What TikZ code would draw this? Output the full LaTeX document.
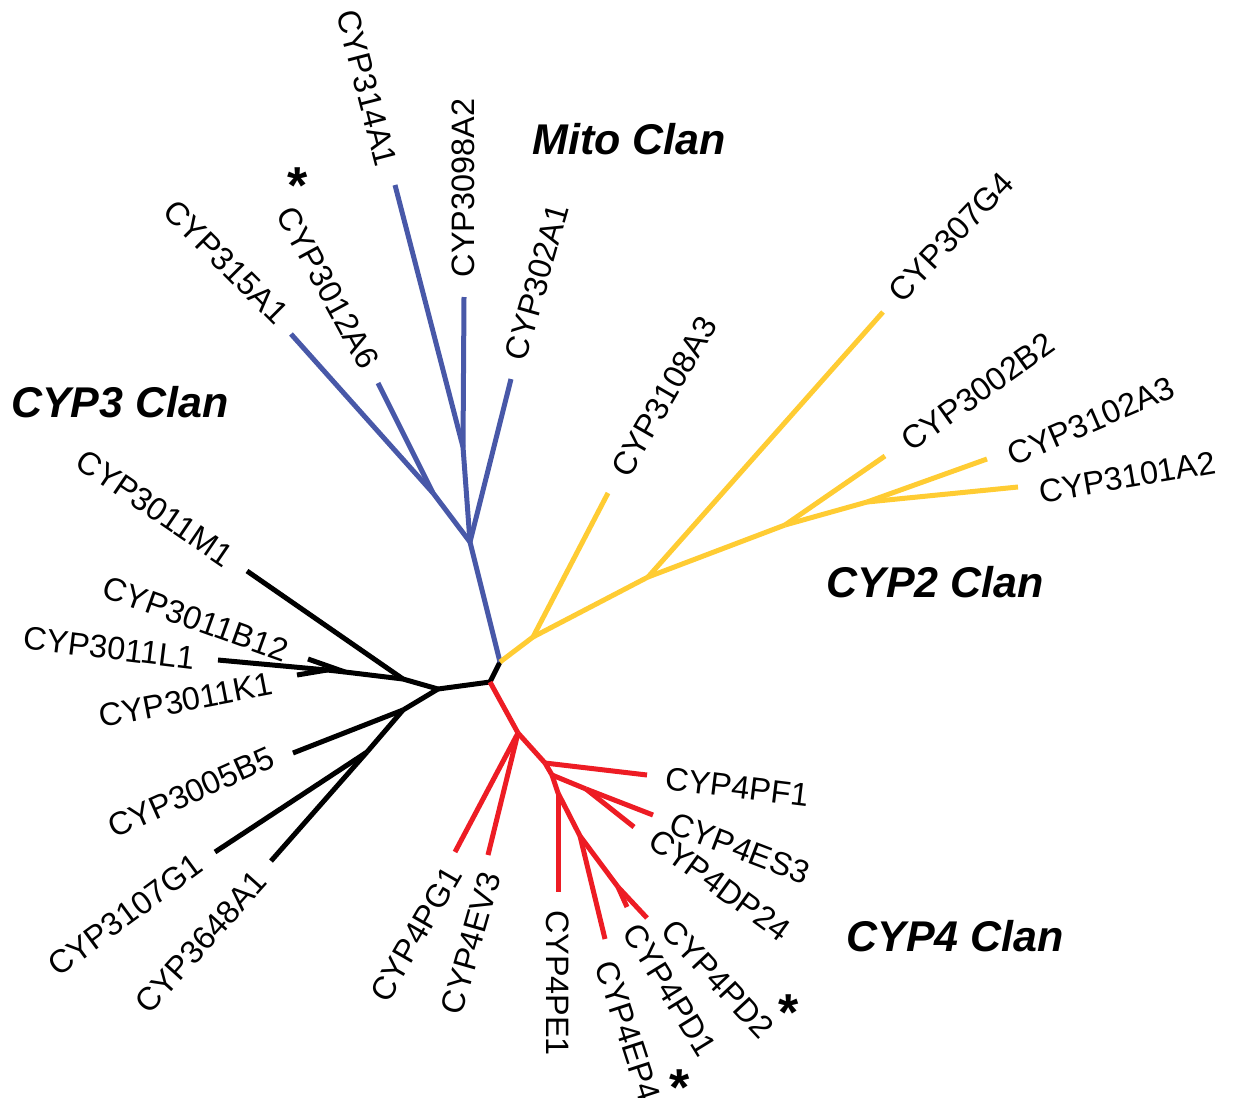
\documentclass[tikz,border=0pt]{standalone}
\usepackage{fontspec}
\setmainfont{Liberation Sans}
\definecolor{mblue}{RGB}{72,88,168}
\definecolor{myellow}{RGB}{255,204,51}
\definecolor{mred}{RGB}{237,28,36}
\tikzset{
  br/.style={line width=2.5pt, line join=round},
  lab/.style={inner sep=0pt, font=\fontsize{16.2}{18}\selectfont},
  clan/.style={inner sep=0pt, font=\fontsize{21.5}{24}\selectfont\bfseries\itshape},
  star/.style={inner sep=0pt, font=\fontsize{26}{26}\selectfont\bfseries}
}
\begin{document}
\begin{tikzpicture}[x=0.5pt,y=-0.5pt]
\useasboundingbox (0,0) rectangle (1234,1097);
\clip (0,0) rectangle (1234,1097);
% internal nodes
\coordinate (R0) at (500,662);
\coordinate (Rb) at (490,682);
% black
\coordinate (B1) at (438,689);
\coordinate (B2) at (403,679);
\coordinate (B3) at (345,672);
\coordinate (B4) at (327,670);
\coordinate (B5) at (403,710);
\coordinate (B6) at (367,752);
\coordinate (tM1) at (247,571);
\coordinate (tB12) at (308,659);
\coordinate (tL1) at (218,660);
\coordinate (tK1) at (297,675);
\coordinate (tB5) at (293,753);
\coordinate (tG1) at (215,852);
\coordinate (t3648) at (271,861);
% blue
\coordinate (U1) at (470,542);
\coordinate (U3) at (463,447);
\coordinate (U4) at (433,493);
\coordinate (t302) at (511,379);
\coordinate (t3098) at (464,297);
\coordinate (t314) at (395,185);
\coordinate (t3012) at (378,383);
\coordinate (t315) at (291,334);
% yellow
\coordinate (Y1) at (533,637);
\coordinate (Y2) at (648,577);
\coordinate (Y3) at (785,525);
\coordinate (Y4) at (867,502);
\coordinate (t3108) at (608,493);
\coordinate (t307) at (883,312);
\coordinate (t3002) at (885,456);
\coordinate (t3102) at (987,459);
\coordinate (t3101) at (1018,487);
% red
\coordinate (Q1) at (518,733);
\coordinate (Q2) at (545,763);
\coordinate (Q3) at (552,775);
\coordinate (Q4) at (586,789);
\coordinate (Q5) at (558,793);
\coordinate (Q6) at (580,836);
\coordinate (Q7) at (618,887);
\coordinate (tPG1) at (455,852);
\coordinate (tEV3) at (488,855);
\coordinate (tPF1) at (647,775);
\coordinate (tES3) at (653,815);
\coordinate (tDP24) at (634,827);
\coordinate (tPE1) at (558,892);
\coordinate (tEP4) at (605,939);
\coordinate (tPD1) at (627,907);
\coordinate (tPD2) at (647,918);

% branches
\draw[br,black] (Rb)--(R0);
\draw[br,black] (Rb)--(B1);
\draw[br,black] (B1)--(B2);
\draw[br,black] (B2)--(tM1);
\draw[br,black] (B2)--(B3);
\draw[br,black] (B3)--(tB12);
\draw[br,black] (B3)--(B4);
\draw[br,black] (B4)--(tL1);
\draw[br,black] (B4)--(tK1);
\draw[br,black] (B1)--(B5);
\draw[br,black] (B5)--(tB5);
\draw[br,black] (B5)--(B6);
\draw[br,black] (B6)--(tG1);
\draw[br,black] (B6)--(t3648);

\draw[br,mblue] (R0)--(U1);
\draw[br,mblue] (U1)--(t302);
\draw[br,mblue] (U1)--(U3);
\draw[br,mblue] (U3)--(t3098);
\draw[br,mblue] (U3)--(t314);
\draw[br,mblue] (U1)--(U4);
\draw[br,mblue] (U4)--(t3012);
\draw[br,mblue] (U4)--(t315);

\draw[br,myellow] (R0)--(Y1);
\draw[br,myellow] (Y1)--(t3108);
\draw[br,myellow] (Y1)--(Y2);
\draw[br,myellow] (Y2)--(t307);
\draw[br,myellow] (Y2)--(Y3);
\draw[br,myellow] (Y3)--(t3002);
\draw[br,myellow] (Y3)--(Y4);
\draw[br,myellow] (Y4)--(t3102);
\draw[br,myellow] (Y4)--(t3101);

\draw[br,mred] (Rb)--(Q1);
\draw[br,mred] (Q1)--(tPG1);
\draw[br,mred] (Q1)--(tEV3);
\draw[br,mred] (Q1)--(Q2);
\draw[br,mred] (Q2)--(tPF1);
\draw[br,mred] (Q2)--(Q3);
\draw[br,mred] (Q3)--(Q4);
\draw[br,mred] (Q4)--(tES3);
\draw[br,mred] (Q4)--(tDP24);
\draw[br,mred] (Q3)--(Q5);
\draw[br,mred] (Q5)--(tPE1);
\draw[br,mred] (Q5)--(Q6);
\draw[br,mred] (Q6)--(tEP4);
\draw[br,mred] (Q6)--(Q7);
\draw[br,mred] (Q7)--(tPD1);
\draw[br,mred] (Q7)--(tPD2);

% labels
\node[lab,rotate=-75.5] (l314) at (367,88) {CYP314A1};
\node[lab,rotate=90] (l3098) at (463,188) {CYP3098A2};
\node[lab,rotate=74] (l302) at (537,282) {CYP302A1};
\node[lab,rotate=-61.5] (l3012) at (328,288) {CYP3012A6};
\node[lab,rotate=-45] (l315) at (226,262) {CYP315A1};
\node[lab,rotate=60] (l3108) at (664,397) {CYP3108A3};
\node[lab,rotate=46.5] (l307) at (951,237) {CYP307G4};
\node[lab,rotate=35.5] (l3002) at (978,392) {CYP3002B2};
\node[lab,rotate=23.3] (l3102) at (1091,421) {CYP3102A3};
\node[lab,rotate=9.7] (l3101) at (1127,477) {CYP3101A2};
\node[lab,rotate=-7] (lPF1) at (737,787) {CYP4PF1};
\node[lab,rotate=-21] (lES3) at (740,848) {CYP4ES3};
\node[lab,rotate=-36] (lDP24) at (720,885) {CYP4DP24};
\node[lab,rotate=-47] (lPD2) at (718,979) {CYP4PD2};
\node[lab,rotate=-58.5] (lPD1) at (670,990) {CYP4PD1};
\node[lab,rotate=-72] (lEP4) at (628,1031) {CYP4EP4};
\node[lab,rotate=-90] (lPE1) at (558,983) {CYP4PE1};
\node[lab,rotate=74] (lEV3) at (471,943) {CYP4EV3};
\node[lab,rotate=60] (lPG1) at (416,934) {CYP4PG1};
\node[lab,rotate=48] (l3648) at (201,942) {CYP3648A1};
\node[lab,rotate=36.3] (l3107) at (125,915) {CYP3107G1};
\node[lab,rotate=24.2] (l3005) at (191,792) {CYP3005B5};
\node[lab,rotate=10.9] (lK1) at (186,700) {CYP3011K1};
\node[lab,rotate=-7] (lL1) at (109,648) {CYP3011L1};
\node[lab,rotate=-19.7] (lB12) at (196,619) {CYP3011B12};
\node[lab,rotate=-34.3] (lM1) at (155,508) {CYP3011M1};

% asterisks
\node[star] (s1) at (298,186) {*};
\node[star] (s2) at (789,1013) {*};
\node[star] (s3) at (680,1088) {*};

% clan labels
\node[clan] (cMito) at (629,139) {Mito Clan};
\node[clan] (cCYP3) at (120,402) {CYP3 Clan};
\node[clan] (cCYP2) at (935,582) {CYP2 Clan};
\node[clan] (cCYP4) at (955,936) {CYP4 Clan};
\end{tikzpicture}
\end{document}
